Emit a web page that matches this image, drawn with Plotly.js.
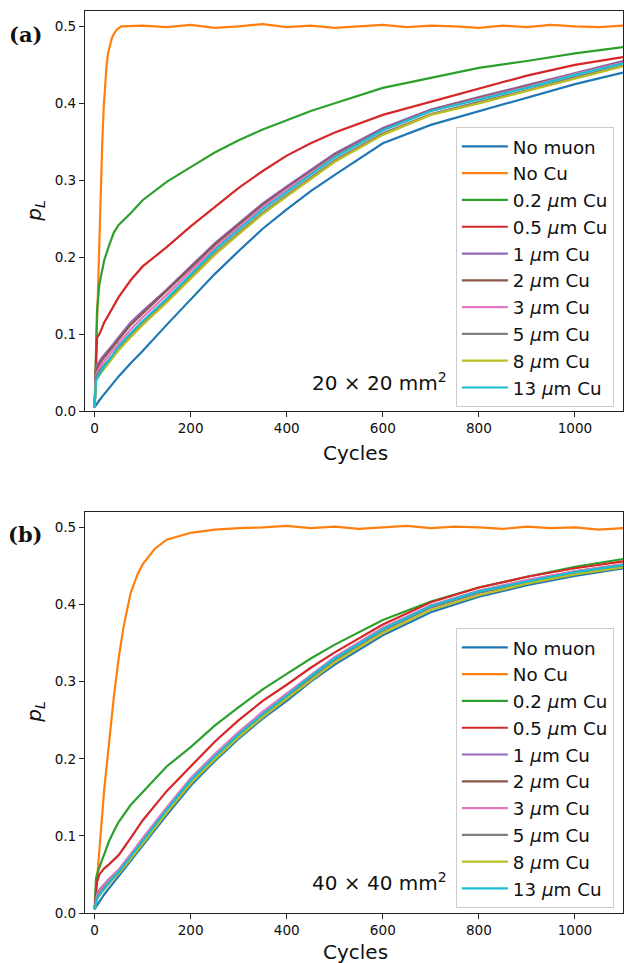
<!DOCTYPE html>
<html>
<head>
<meta charset="utf-8">
<script src="https://cdn.plot.ly/plotly-3.0.1.min.js"></script>
<style>html,body{margin:0;padding:0;background:#fff;}#chart{width:624px;height:963px;}</style>
</head>
<body>
<div id="chart"></div>
<script>
// ---- data ----
const seriesNames = ["No muon","No Cu","0.2 <i>μ</i>m Cu","0.5 <i>μ</i>m Cu","1 <i>μ</i>m Cu","2 <i>μ</i>m Cu","3 <i>μ</i>m Cu","5 <i>μ</i>m Cu","8 <i>μ</i>m Cu","13 <i>μ</i>m Cu"];
const cycles = [0,3,5,10,15,20,30,40,50,75,100,150,200,250,300,350,400,450,500,600,700,800,900,1000,1100];

// panel (a) 20x20 mm^2
const cyclesNoCuA = [0,2,4,6,8,10,13,16,19,22,25,28,32,36,40,45,55,100,150,200,250,300,350,400,450,500,550,600,650,700,750,800,850,900,950,1000,1050,1100];
const a_nocu = [0.005,0.05,0.10,0.15,0.19,0.225,0.29,0.35,0.395,0.425,0.45,0.465,0.475,0.485,0.49,0.495,0.50,0.501,0.499,0.502,0.498,0.500,0.503,0.499,0.501,0.498,0.500,0.502,0.499,0.501,0.500,0.498,0.501,0.499,0.502,0.500,0.499,0.501];
const a_nomuon = [0.005,0.008,0.010,0.014,0.018,0.022,0.030,0.038,0.045,0.062,0.078,0.112,0.145,0.178,0.208,0.237,0.262,0.286,0.307,0.348,0.372,0.390,0.408,0.425,0.440];
const a_cu02 = [0.005,0.100,0.130,0.165,0.183,0.196,0.215,0.232,0.242,0.257,0.274,0.298,0.317,0.336,0.352,0.366,0.378,0.390,0.400,0.420,0.433,0.446,0.455,0.465,0.473];
const a_cu05 = [0.005,0.050,0.095,0.100,0.108,0.115,0.126,0.138,0.148,0.170,0.188,0.213,0.240,0.265,0.290,0.312,0.332,0.348,0.362,0.385,0.402,0.420,0.436,0.450,0.460];
const a_cu1 = [0.005,0.055,0.060,0.065,0.069,0.073,0.080,0.088,0.096,0.115,0.130,0.158,0.188,0.218,0.244,0.270,0.292,0.314,0.335,0.368,0.392,0.408,0.424,0.440,0.455];
const a_cu2 = [0.005,0.050,0.055,0.061,0.066,0.070,0.077,0.085,0.093,0.112,0.127,0.156,0.186,0.216,0.242,0.268,0.290,0.312,0.333,0.366,0.391,0.407,0.423,0.439,0.454];
const a_cu3 = [0.005,0.047,0.050,0.056,0.061,0.065,0.072,0.080,0.088,0.106,0.122,0.151,0.182,0.212,0.239,0.265,0.288,0.310,0.331,0.365,0.390,0.406,0.421,0.438,0.453];
const a_cu5 = [0.005,0.045,0.047,0.052,0.056,0.060,0.067,0.075,0.082,0.099,0.114,0.143,0.174,0.205,0.232,0.258,0.281,0.304,0.326,0.361,0.386,0.402,0.417,0.434,0.449];
const a_cu8 = [0.005,0.040,0.042,0.047,0.051,0.055,0.063,0.071,0.079,0.096,0.112,0.141,0.172,0.203,0.230,0.256,0.279,0.302,0.324,0.359,0.385,0.400,0.416,0.433,0.448];
const a_cu13 = [0.005,0.040,0.042,0.048,0.053,0.058,0.066,0.075,0.084,0.101,0.117,0.146,0.178,0.209,0.236,0.262,0.285,0.308,0.330,0.365,0.390,0.405,0.420,0.437,0.452];

// panel (b) 40x40 mm^2
const cyclesNoCuB = [0,5,10,15,20,30,40,50,60,75,90,100,125,150,175,200,250,300,350,400,450,500,550,600,650,700,750,800,850,900,950,1000,1050,1100];
const b_nocu = [0.004,0.045,0.085,0.125,0.16,0.22,0.28,0.33,0.37,0.415,0.44,0.452,0.472,0.484,0.489,0.493,0.497,0.499,0.500,0.502,0.499,0.501,0.498,0.500,0.502,0.499,0.501,0.500,0.498,0.501,0.499,0.500,0.497,0.499];
const b_nomuon = [0.005,0.008,0.010,0.015,0.020,0.024,0.032,0.040,0.047,0.067,0.087,0.127,0.165,0.197,0.226,0.252,0.275,0.300,0.322,0.360,0.390,0.410,0.425,0.437,0.447];
const b_cu02 = [0.005,0.045,0.050,0.060,0.068,0.076,0.093,0.106,0.118,0.140,0.157,0.190,0.215,0.243,0.267,0.290,0.310,0.330,0.348,0.380,0.404,0.422,0.436,0.449,0.459];
const b_cu05 = [0.005,0.030,0.040,0.050,0.054,0.058,0.063,0.069,0.075,0.097,0.120,0.158,0.190,0.222,0.250,0.275,0.296,0.318,0.338,0.374,0.403,0.422,0.436,0.447,0.456];
const b_cu1 = [0.005,0.022,0.025,0.030,0.034,0.037,0.044,0.050,0.056,0.076,0.096,0.136,0.173,0.204,0.233,0.259,0.283,0.307,0.330,0.368,0.397,0.416,0.430,0.442,0.451];
const b_cu2 = [0.005,0.020,0.023,0.028,0.032,0.036,0.043,0.049,0.055,0.075,0.095,0.135,0.173,0.204,0.233,0.259,0.283,0.307,0.330,0.368,0.398,0.417,0.431,0.443,0.452];
const b_cu3 = [0.005,0.020,0.023,0.028,0.032,0.036,0.043,0.050,0.056,0.076,0.097,0.137,0.175,0.206,0.235,0.261,0.285,0.309,0.332,0.370,0.399,0.418,0.432,0.443,0.452];
const b_cu5 = [0.005,0.017,0.020,0.025,0.029,0.033,0.040,0.047,0.053,0.072,0.093,0.133,0.171,0.202,0.231,0.257,0.281,0.305,0.328,0.366,0.396,0.415,0.429,0.441,0.450];
const b_cu8 = [0.005,0.015,0.018,0.023,0.027,0.031,0.038,0.045,0.051,0.070,0.090,0.130,0.168,0.199,0.228,0.254,0.278,0.302,0.325,0.363,0.393,0.412,0.427,0.439,0.448];
const b_cu13 = [0.005,0.015,0.018,0.024,0.028,0.032,0.040,0.047,0.053,0.073,0.094,0.134,0.172,0.203,0.232,0.258,0.282,0.307,0.330,0.368,0.398,0.417,0.430,0.442,0.451];

const xTicks = [0,200,400,600,800,1000];
const yTicks = [0.0,0.1,0.2,0.3,0.4,0.5];

// ---- build ----
const colors = ['#1f77b4','#ff7f0e','#2ca02c','#d62728','#9467bd','#8c564b','#e377c2','#7f7f7f','#bcbd22','#17becf'];
const panelA = [a_nomuon,a_nocu,a_cu02,a_cu05,a_cu1,a_cu2,a_cu3,a_cu5,a_cu8,a_cu13];
const panelB = [b_nomuon,b_nocu,b_cu02,b_cu05,b_cu1,b_cu2,b_cu3,b_cu5,b_cu8,b_cu13];
const traces = [];
function addPanel(data, xNoCu, xa, ya, leg){
  data.forEach((ys,i)=>{
    traces.push({type:'scatter',mode:'lines',x:(i===1?xNoCu:cycles),y:ys,name:seriesNames[i],
      line:{color:colors[i],width:2.2},xaxis:xa,yaxis:ya,legend:leg,hoverinfo:'skip'});
  });
}
addPanel(panelA, cyclesNoCuA, 'x', 'y', 'legend');
addPanel(panelB, cyclesNoCuB, 'x2', 'y2', 'legend2');

const F = 'DejaVu Sans, sans-serif';
const axCommon = {showgrid:false,zeroline:false,showline:true,mirror:true,linecolor:'#222',linewidth:1,
  ticks:'outside',ticklen:5,tickwidth:1,tickcolor:'#222',tickfont:{family:F,size:13.6,color:'#111'}};
const legCommon = {bgcolor:'rgba(255,255,255,0.85)',bordercolor:'#cccccc',borderwidth:1,itemwidth:46,
  font:{family:F,size:18.3,color:'#111'},xanchor:'right',yanchor:'top',x:0.983};

const layout = {
  width:624,height:963,paper_bgcolor:'#fff',plot_bgcolor:'#fff',
  margin:{l:85,r:1,t:11,b:50},showlegend:true,
  xaxis:Object.assign({},axCommon,{range:[-20,1100],tickvals:xTicks,anchor:'y',domain:[0,1]}),
  yaxis:Object.assign({},axCommon,{range:[0,0.52],tickvals:yTicks,tickformat:'.1f',domain:[0.5565,1],anchor:'x'}),
  xaxis2:Object.assign({},axCommon,{range:[-20,1100],tickvals:xTicks,anchor:'y2',domain:[0,1]}),
  yaxis2:Object.assign({},axCommon,{range:[0,0.52],tickvals:yTicks,tickformat:'.1f',domain:[0,0.4446],anchor:'x2'}),
  legend:Object.assign({},legCommon,{y:0.8714}),
  legend2:Object.assign({},legCommon,{y:0.316}),
  annotations:[
    {text:'<b>(a)</b>',xref:'paper',yref:'paper',x:-0.1115,y:0.9745,showarrow:false,xanchor:'center',yanchor:'middle',font:{family:'DejaVu Serif, serif',size:21,color:'#111'}},
    {text:'<b>(b)</b>',xref:'paper',yref:'paper',x:-0.1115,y:0.4191,showarrow:false,xanchor:'center',yanchor:'middle',font:{family:'DejaVu Serif, serif',size:21,color:'#111'}},
    {text:'<i>p<sub>L</sub></i>',xref:'paper',yref:'paper',x:-0.0935,y:0.7783,showarrow:false,textangle:-90,xanchor:'center',yanchor:'middle',font:{family:F,size:20,color:'#111'}},
    {text:'<i>p<sub>L</sub></i>',xref:'paper',yref:'paper',x:-0.0935,y:0.2228,showarrow:false,textangle:-90,xanchor:'center',yanchor:'middle',font:{family:F,size:20,color:'#111'}},
    {text:'Cycles',xref:'paper',yref:'paper',x:0.5019,y:0.51,showarrow:false,xanchor:'center',yanchor:'middle',font:{family:F,size:20,color:'#111'}},
    {text:'Cycles',xref:'paper',yref:'paper',x:0.5019,y:-0.0432,showarrow:false,xanchor:'center',yanchor:'middle',font:{family:F,size:20,color:'#111'}},
    {text:'20 × 20 mm<sup>2</sup>',xref:'paper',yref:'paper',x:0.548,y:0.5887,showarrow:false,xanchor:'center',yanchor:'middle',font:{family:F,size:20,color:'#111'}},
    {text:'40 × 40 mm<sup>2</sup>',xref:'paper',yref:'paper',x:0.548,y:0.0344,showarrow:false,xanchor:'center',yanchor:'middle',font:{family:F,size:20,color:'#111'}}
  ]
};
Plotly.newPlot('chart',traces,layout,{staticPlot:true,displayModeBar:false});
</script>
</body>
</html>
